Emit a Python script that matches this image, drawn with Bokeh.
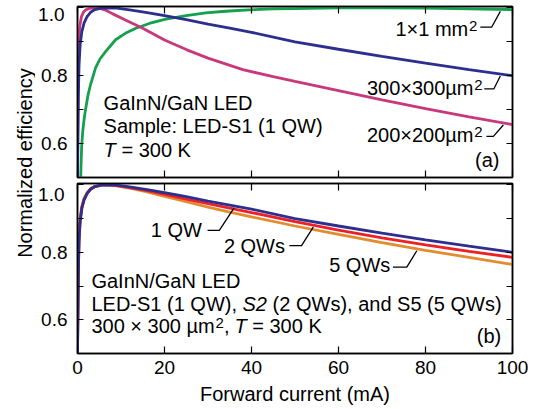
import numpy as np
from bokeh.plotting import figure
from bokeh.models import LinearAxis, FixedTicker, Range1d
from bokeh.layouts import row, column
from bokeh.embed import file_html
from bokeh.resources import INLINE
from bokeh.core.properties import value

# ---------------- data ----------------
# panel (a): chip-size dependence, sample LED-S1 (1 QW), T = 300 K
cur_1mm = [0.7, 0.8, 0.95, 1.2, 1.5, 1.84, 2.4, 3.0, 4.15, 5.2, 6.45, 8.76, 11, 13.4,
           16.5, 20.3, 25, 29.5, 34, 39.4, 45, 50, 60, 70, 80, 90, 100]
eff_1mm = [0.48, 0.53, 0.59, 0.635, 0.67, 0.70, 0.742, 0.774, 0.823, 0.85, 0.871, 0.906,
           0.925, 0.94, 0.954, 0.967, 0.977, 0.985, 0.99, 0.994, 0.997, 0.998, 1.0, 1.0,
           0.999, 0.997, 0.995]

cur_300 = [0, 0.1, 0.2, 0.35, 0.6, 1.0, 1.5, 2.2, 3.0, 4.0, 5.5, 7.0, 9.0, 12, 16, 20,
           25, 30, 35, 40, 50, 60, 70, 80, 90, 100]
eff_300 = [0.5, 0.62, 0.74, 0.83, 0.89, 0.93, 0.955, 0.974, 0.987, 0.995, 0.999, 1.0,
           0.999, 0.994, 0.986, 0.977, 0.965, 0.952, 0.94, 0.928, 0.900, 0.878, 0.857,
           0.837, 0.818, 0.800]

cur_200 = [0, 0.05, 0.1, 0.2, 0.3, 0.5, 0.9, 1.4, 2.0, 3.0, 4.0, 5.0, 6.5, 8, 11, 15,
           20, 25, 30, 38, 45, 50, 60, 70, 80, 90, 100]
eff_200 = [0.5, 0.62, 0.72, 0.84, 0.90, 0.945, 0.974, 0.988, 0.995, 0.999, 1.0, 0.999,
           0.993, 0.983, 0.964, 0.94, 0.905, 0.877, 0.852, 0.818, 0.797, 0.783, 0.756,
           0.729, 0.703, 0.679, 0.656]

# panel (b): QW-number dependence, 300 x 300 um^2, T = 300 K
cur_qw = [0, 0.1, 0.2, 0.35, 0.6, 1.0, 1.5, 2.2, 3.0, 4.0, 5.5, 7.0, 9.0, 12, 16, 20,
          25, 30, 35, 40, 50, 60, 70, 80, 90, 100]
eff_1qw = [0.5, 0.62, 0.74, 0.83, 0.89, 0.93, 0.955, 0.974, 0.987, 0.995, 0.999, 1.0,
           0.999, 0.994, 0.986, 0.977, 0.965, 0.952, 0.94, 0.928, 0.900, 0.878, 0.857,
           0.837, 0.818, 0.800]
eff_2qw = [0.5, 0.63, 0.75, 0.84, 0.895, 0.933, 0.957, 0.975, 0.987, 0.995, 0.999, 1.0,
           0.998, 0.992, 0.983, 0.972, 0.958, 0.944, 0.931, 0.918, 0.891, 0.866, 0.843,
           0.822, 0.803, 0.785]
eff_5qw = [0.5, 0.65, 0.77, 0.85, 0.90, 0.937, 0.96, 0.977, 0.989, 0.996, 1.0, 1.0,
           0.997, 0.99, 0.979, 0.966, 0.95, 0.934, 0.919, 0.905, 0.878, 0.853, 0.829,
           0.806, 0.785, 0.764]

x_ticks = [0, 20, 40, 60, 80, 100]
y_major = [0.6, 0.8]
y_minor = [0.5, 0.7, 0.9, 1.0]
y_top_label = [1.0]

FONT = "Liberation Sans"
C_GREEN = "#14a04c"
C_PINK = "#c8387a"
C_BLUE = "#2d2f8e"
C_RED = "#ec2027"
C_ORANGE = "#e38b2f"
LW = 2.8

Y0, Y1 = 0.5, 1.004
TITLE_W = 35


def make_panel(height, b_top, b_bottom, show_x, top_label_shift):
    p = figure(width=533 - TITLE_W, height=height, x_range=Range1d(0, 100),
               y_range=Range1d(Y0, Y1), output_backend="svg",
               toolbar_location=None, min_border_left=40, min_border_right=21,
               min_border_top=b_top, min_border_bottom=b_bottom)
    p.add_layout(LinearAxis(), "above")
    p.add_layout(LinearAxis(), "right")
    p.xgrid.visible = False
    p.ygrid.visible = False
    p.outline_line_color = "black"
    p.outline_line_width = 1.5
    for ax in p.xaxis + p.yaxis:
        ax.axis_line_width = 1.5
        ax.axis_line_color = "black"
        ax.major_tick_out = 0
        ax.minor_tick_out = 0
        ax.major_tick_line_width = 1.2
        ax.minor_tick_line_width = 1.2
        ax.major_tick_line_color = "black"
        ax.minor_tick_line_color = "black"
        ax.major_label_text_font = FONT
        ax.major_label_text_color = None
        ax.major_label_text_font_size = "0px"
        ax.major_label_standoff = 0
        ax.axis_label_standoff = 0
    for ax in p.xaxis:
        ax.ticker = FixedTicker(ticks=x_ticks, minor_ticks=[])
        ax.major_tick_in = 7
    for ax in p.yaxis:
        ax.ticker = FixedTicker(ticks=y_major, minor_ticks=y_minor)
        ax.major_tick_in = 6
        ax.minor_tick_in = 6
    left = p.left[0]
    left.major_label_text_font_size = "19px"
    left.major_label_text_color = "black"
    left.major_label_standoff = 10
    # "1.0" label sits a little below its tick (as in the reference)
    p.extra_y_ranges = {"lab": Range1d(Y0 + top_label_shift, Y1 + top_label_shift)}
    lab = LinearAxis(y_range_name="lab",
                     ticker=FixedTicker(ticks=y_top_label, minor_ticks=[]),
                     axis_line_color=None, major_tick_line_color=None,
                     minor_tick_line_color=None, major_tick_in=0, major_tick_out=0,
                     minor_tick_in=0, minor_tick_out=0, major_label_standoff=-26,
                     axis_label_standoff=0,
                     major_label_text_font=FONT, major_label_text_font_size="19px",
                     major_label_text_color="black",
                     major_label_overrides={1.0: "1.0"})
    p.add_layout(lab, "left")
    if show_x:
        bx = p.below[0]
        bx.major_label_text_font_size = "19px"
        bx.major_label_text_color = "black"
        bx.major_label_standoff = 7
        bx.axis_label = "Forward current (mA)"
        bx.axis_label_text_font = FONT
        bx.axis_label_text_font_size = "20px"
        bx.axis_label_text_font_style = "normal"
        bx.axis_label_text_color = "black"
        bx.axis_label_standoff = 6
    return p


def txt(p, x, y, s, align="left", italic=False, dx=0, dy=0, size="20px"):
    p.text(x=[x], y=[y], text=[s], x_offset=dx, y_offset=dy, text_align=align,
           text_baseline="middle", text_font=value(FONT),
           text_font_size=size,
           text_font_style="italic" if italic else "normal", text_color="black")


def sup_label(p, x, y, s):
    # right-aligned label ending with a raised "2"
    txt(p, x, y, s, align="right", dx=-9)
    txt(p, x, y, "2", align="right", dy=-3, size="15px")


def leader(p, x0, x1, xt, yh, cur, eff):
    yt = float(np.interp(xt, cur, eff)) - 0.006
    p.line([x0, x1, xt], [yh, yh, yt], line_color="black", line_width=1.3)


# ---------------- panel (a) ----------------
pa = make_panel(180, 6, 3, False, 7 * (Y1 - Y0) / 171)
pa.line(cur_1mm, eff_1mm, line_color=C_GREEN, line_width=LW)
pa.line(cur_200, eff_200, line_color=C_PINK, line_width=LW)
pa.line(cur_300, eff_300, line_color=C_BLUE, line_width=LW)

txt(pa, 6.0, 0.721, "GaInN/GaN LED")
txt(pa, 6.0, 0.651, "Sample: LED-S1 (1 QW)")
txt(pa, 6.0, 0.580, "T", italic=True)
txt(pa, 6.0, 0.580, "= 300 K", dx=17.8)
txt(pa, 97.0, 0.553, "(a)", align="right")
sup_label(pa, 91.9, 0.939, "1×1 mm")
sup_label(pa, 93.1, 0.765, "300×300µm")
sup_label(pa, 93.1, 0.624, "200×200µm")
leader(pa, 92.6, 95.2, 97.2, 0.943, cur_1mm, eff_1mm)
leader(pa, 93.5, 95.7, 97.2, 0.761, cur_300, eff_300)
leader(pa, 94.0, 95.6, 97.9, 0.621, cur_200, eff_200)

# ---------------- panel (b) ----------------
pb = make_panel(229, 3, 56, True, 10 * (Y1 - Y0) / 170)
pb.line(cur_qw, eff_5qw, line_color=C_ORANGE, line_width=LW)
pb.line(cur_qw, eff_2qw, line_color=C_RED, line_width=LW)
pb.line(cur_qw, eff_1qw, line_color=C_BLUE, line_width=LW)

txt(pb, 3.2, 0.716, "GaInN/GaN LED")
txt(pb, 3.2, 0.646, "LED-S1 (1 QW),")
txt(pb, 3.2, 0.646, "S2", italic=True, dx=151.1)
txt(pb, 3.2, 0.646, "(2 QWs), and S5 (5 QWs)", dx=181.2)
txt(pb, 3.2, 0.581, "300 × 300 µm")
txt(pb, 3.2, 0.581, "2", dx=124.0, dy=-3, size="15px")
txt(pb, 3.2, 0.581, ",", dx=132.5)
txt(pb, 3.2, 0.581, "T", italic=True, dx=143.0)
txt(pb, 3.2, 0.581, "= 300 K", dx=160.8)
txt(pb, 97.4, 0.552, "(b)", align="right")
txt(pb, 28.6, 0.865, "1 QW", align="right")
txt(pb, 47.7, 0.819, "2 QWs", align="right")
txt(pb, 71.9, 0.762, "5 QWs", align="right")
leader(pb, 29.9, 32.6, 36.0, 0.865, cur_qw, eff_1qw)
leader(pb, 48.7, 51.5, 54.2, 0.820, cur_qw, eff_2qw)
leader(pb, 72.5, 75.7, 78.0, 0.756, cur_qw, eff_5qw)

# ---------------- shared y-axis title ----------------
pl = figure(width=TITLE_W, height=409, x_range=Range1d(0, TITLE_W),
            y_range=Range1d(0, 409), output_backend="svg", toolbar_location=None,
            x_axis_type=None, y_axis_type=None, min_border=0)
pl.outline_line_color = None
pl.xgrid.visible = False
pl.ygrid.visible = False
pl.text(x=[24], y=[409 - 162.5], text=["Normalized efficiency"], angle=np.pi / 2,
        text_align="center", text_baseline="middle", text_font=value(FONT),
        text_font_size="20px", text_color="black")

layout = row(pl, column(pa, pb))
open("out.html", "w").write(file_html(layout, INLINE))
